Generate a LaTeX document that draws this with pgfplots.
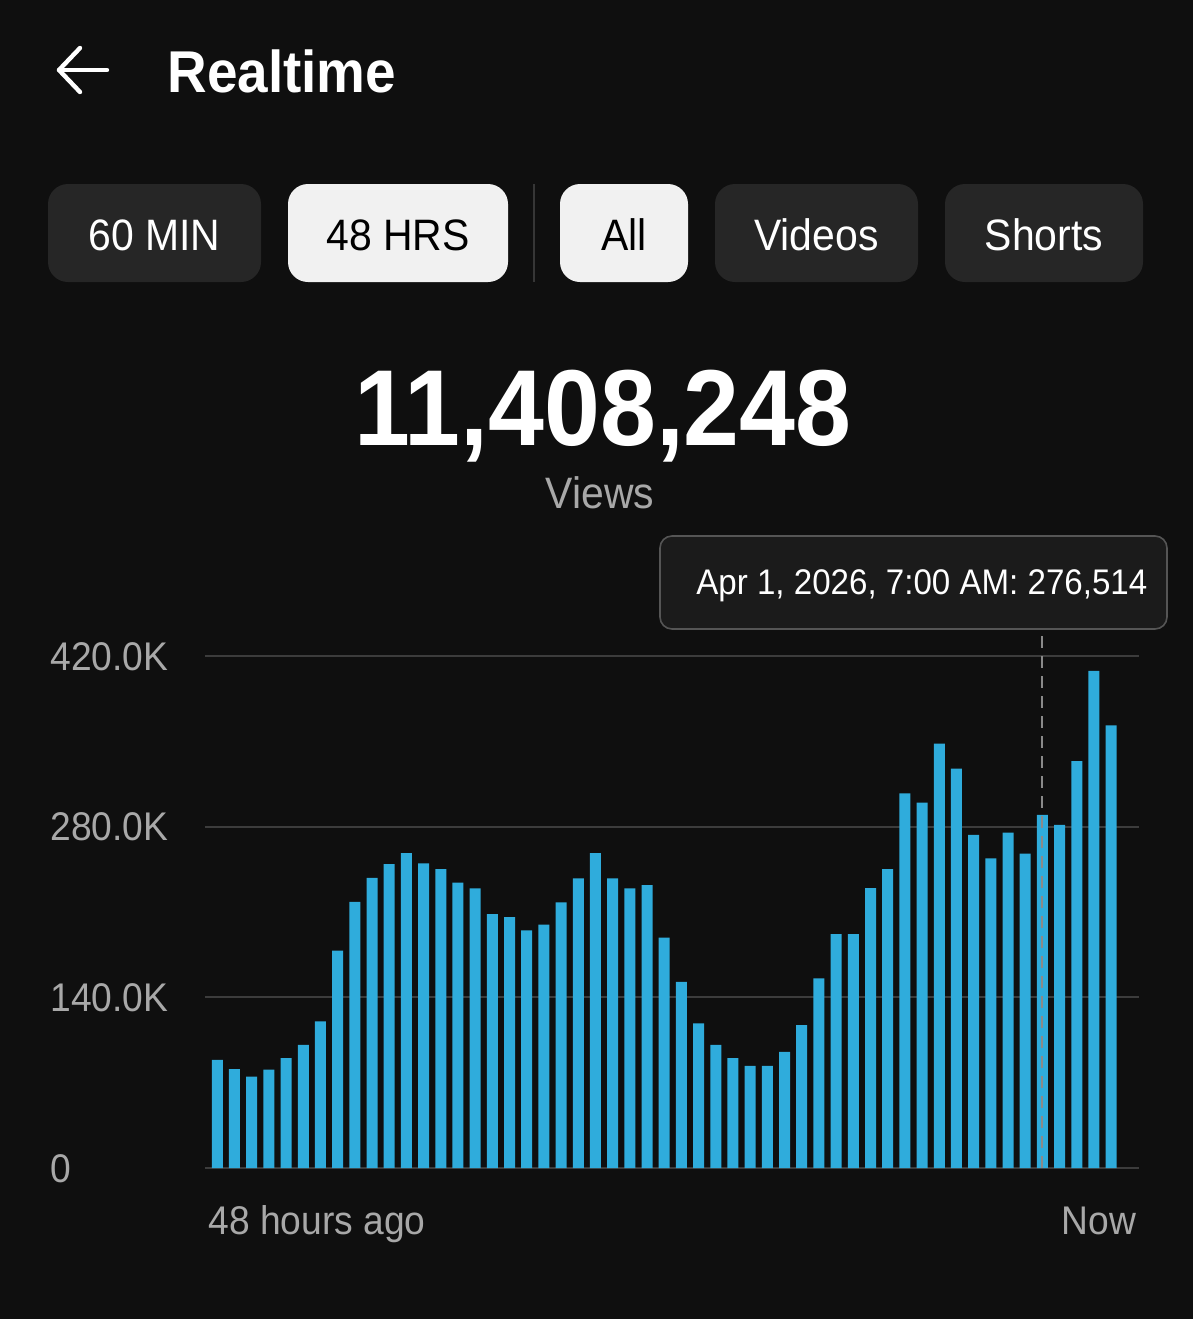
\documentclass[border=0pt]{standalone}
\usepackage{pgfplots}
\pgfplotsset{compat=1.18}
\usepackage{fontspec}
\setmainfont[FakeStretch=0.93]{Liberation Sans}
\definecolor{bg}{HTML}{0F0F0F}
\definecolor{barc}{RGB}{47,172,220}
\definecolor{gridc}{HTML}{3C3C3C}
\definecolor{btndark}{HTML}{262626}
\definecolor{btnlight}{HTML}{F1F1F1}
\definecolor{ticktext}{HTML}{A8A8A8}
\definecolor{tipfill}{HTML}{1B1B1B}
\definecolor{tipdraw}{HTML}{555555}
\definecolor{dashc}{HTML}{8A8A8A}
\definecolor{sepc}{HTML}{363636}

\pgfplotstableread{
idx val
0 88.7
1 81.1
2 74.9
3 80.8
4 90.1
5 101.1
6 120.3
7 178.3
8 218.3
9 238.0
10 249.3
11 258.3
12 249.9
13 245.1
14 234.1
15 229.3
16 208.2
17 205.9
18 194.9
19 199.7
20 218.0
21 237.7
22 258.3
23 237.7
24 229.3
25 232.1
26 189.0
27 152.7
28 118.6
29 101.1
30 90.1
31 83.7
32 83.7
33 95.2
34 117.2
35 155.5
36 191.8
37 191.8
38 229.6
39 245.1
40 307.3
41 299.7
42 348.2
43 327.6
44 273.2
45 254.1
46 275.2
47 258.0
48 289.6
49 281.4
50 333.8
51 407.9
52 363.1
}\views

\begin{document}
\begin{tikzpicture}
\begin{scope}[x=0.5pt,y=-0.5pt]
\fill[bg] (0,0) rectangle (1193,1319);
% back arrow
\draw[white, line width=2.2pt, line cap=round, line join=round] (107,70) -- (59,70);
\draw[white, line width=2.2pt, line cap=round, line join=round] (80,48) -- (59,70) -- (80,92);
\node[anchor=base west, inner sep=0pt, text=white, font=\fontsize{29.5pt}{30pt}\selectfont\bfseries] at (167,92) {Realtime};
% buttons
\fill[btndark, rounded corners=10pt] (48,184) rectangle (261,282);
\fill[btnlight, rounded corners=10pt] (288,184) rectangle (508,282);
\draw[sepc, line width=1pt] (534,184) -- (534,282);
\fill[btnlight, rounded corners=10pt] (560,184) rectangle (688,282);
\fill[btndark, rounded corners=10pt] (715,184) rectangle (918,282);
\fill[btndark, rounded corners=10pt] (945,184) rectangle (1143,282);
\tikzset{btntext/.style={anchor=base, inner sep=0pt, font=\fontsize{22pt}{22pt}\selectfont}}
\node[btntext, text=white] at (154.5,250) {60 MIN};
\node[btntext, text=black] at (398,250) {48 HRS};
\node[btntext, text=black] at (624,250) {All};
\node[btntext, text=white] at (816.5,250) {Videos};
\node[btntext, text=white] at (1044,250) {Shorts};
% big number
\node[anchor=base, inner sep=0pt, text=white, font=\fontsize{54pt}{54pt}\selectfont\bfseries] at (603,445) {11,408,248};
\node[anchor=base, inner sep=0pt, text=ticktext, font=\fontsize{22pt}{22pt}\selectfont] at (600,508) {Views};
% tooltip
\filldraw[fill=tipfill, draw=tipdraw, line width=0.8pt, rounded corners=6pt] (660,536) rectangle (1167,629);
\node[anchor=base west, inner sep=0pt, text=white, font=\fontsize{17.8pt}{18pt}\selectfont] at (696,594) {Apr 1, 2026, 7:00 AM: 276,514};
\end{scope}
\begin{axis}[
  at={(102.5pt,-584pt)}, anchor=south west,
  scale only axis, width=467pt, height=256pt,
  xmin=-0.716, xmax=53.62, ymin=0, ymax=420,
  axis line style={draw=none},
  major tick length=0pt,
  tick style={draw=none},
  clip=false,
  /pgf/number format/assume math mode=true,
  ytick={0,140,280,420},
  yticklabels={0,140.0K,280.0K,420.0K},
  ymajorgrids,
  grid style={line width=1pt, color=gridc},
  yticklabel style={anchor=base west, inner sep=0pt, xshift=-77.5pt, yshift=-7pt, text=ticktext, font=\fontsize{20pt}{20pt}\selectfont},
  xtick={0},
  xticklabels={48 hours ago},
  xticklabel style={anchor=base west, inner sep=0pt, xshift=-4.65pt, yshift=-33pt, text=ticktext, font=\fontsize{20pt}{20pt}\selectfont},
  extra x ticks={52},
  extra x tick labels={Now},
  extra x tick style={grid=none, xticklabel style={anchor=base east, xshift=17.4pt}},
]
\addplot[ybar, bar width=5.5pt, fill=barc, draw=none] table[x=idx, y=val] {\views};
\addplot[draw=dashc, line width=1pt, dash pattern=on 6pt off 4pt] coordinates {(48,0) (48,442)};
\end{axis}
\end{tikzpicture}
\end{document}
